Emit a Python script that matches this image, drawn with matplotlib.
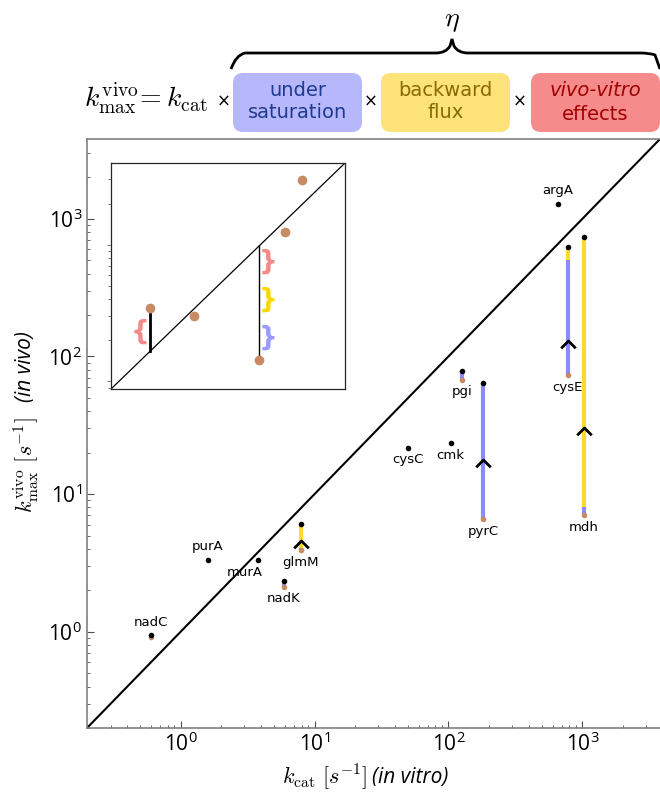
import matplotlib
matplotlib.use("Agg")
import matplotlib.pyplot as plt
from matplotlib.patches import FancyBboxPatch, PathPatch
from matplotlib.path import Path

plt.rcParams["mathtext.fontset"] = "cm"
plt.rcParams["font.family"] = ["Open Sans", "DejaVu Sans"]

# enzymes: kcat (in vitro) and kmax (in vivo), s^-1
genes = ["nadC", "purA", "murA", "nadK", "glmM", "cysC", "cmk", "pgi",
         "pyrC", "cysE", "mdh", "argA"]
kcat = [0.6, 1.6, 3.8, 5.9, 7.9, 50, 104, 126, 182, 775, 1030, 655]
kmax = [0.94, 3.3, 3.3, 2.34, 6.1, 21.8, 23.5, 78, 64.5, 623, 737, 1280]
# kmax corrected for backward flux (top of the under-saturation segment)
k_flux = [0.93, 3.3, 3.3, 2.3, 4.07, 21.8, 23.5, 77, 64.5, 502, 8.0, 1280]
# kmax corrected for backward flux and under saturation
k_sat = [0.92, 3.3, 3.3, 2.12, 3.9, 21.8, 23.5, 67.8, 6.6, 73.2, 7.04, 1280]
has_corr = [True, False, False, True, True, False, False, True,
            True, True, True, False]
# arrows along the correction segments
arrow_genes = ["glmM", "pyrC", "cysE", "mdh"]
arrow_y = [4.48, 17.3, 127.6, 29.6]
label_above = ["nadC", "purA", "argA"]

# inset sketch
inset_x = [19.6, 15.0, 3.41, 1.66, 9.73]
inset_y = [29.7, 12.4, 2.99, 3.42, 1.43]

C_SAT = "#8b8bff"
C_FLUX = "#ffd92f"
C_DOT = "#c78a62"

fig = plt.figure(figsize=(6.6, 7.94), dpi=100)

ax = fig.add_axes([87 / 660, 66 / 794, 573 / 660, 589 / 794])
ax.set_xscale("log")
ax.set_yscale("log")
lim = (0.2, 3800)
ax.set_xlim(lim)
ax.set_ylim(lim)
ax.plot(lim, lim, color="black", lw=1.5, zorder=1)

for g, x, y, yf, ys, c in zip(genes, kcat, kmax, k_flux, k_sat, has_corr):
    if c:
        ax.plot([x, x], [yf, y], color=C_FLUX, lw=3, solid_capstyle="butt", zorder=2)
        ax.plot([x, x], [ys, yf], color=C_SAT, lw=3, solid_capstyle="butt", zorder=2)
        ax.plot(x, ys, "o", color=C_DOT, ms=4, mec="none", zorder=3)
    ax.plot(x, y, "o", color="black", ms=4, mec="none", zorder=4)
    if g in label_above:
        ax.annotate(g, (x, y), xytext=(0, 5), textcoords="offset points",
                    ha="center", va="bottom", fontsize=9.5, family="DejaVu Sans")
    elif g == "murA":
        ax.annotate(g, (x, y), xytext=(-10, -4), textcoords="offset points",
                    ha="center", va="top", fontsize=9.5, family="DejaVu Sans")
    else:
        ax.annotate(g, (x, ys if c else y), xytext=(0, -4), textcoords="offset points",
                    ha="center", va="top", fontsize=9.5, family="DejaVu Sans")

chevron = Path([(-1, -0.8), (0, 0.2), (1, -0.8)],
               [Path.MOVETO, Path.LINETO, Path.LINETO])
for g, ya in zip(arrow_genes, arrow_y):
    ax.plot(kcat[genes.index(g)], ya, marker=chevron, ms=10.5, mfc="none",
            mec="black", mew=2, zorder=5)

for s in ("left", "bottom", "top"):
    ax.spines[s].set_color("0.5")
    ax.spines[s].set_linewidth(1.2)
ax.spines["right"].set_visible(False)
ax.tick_params(which="both", direction="in", top=False, right=False,
               labelsize=15, color="0.3")
ax.tick_params(which="major", length=5)
ax.tick_params(which="minor", length=2.5)
ax.set_xticks([1, 10, 100, 1000])
ax.set_yticks([1, 10, 100, 1000])

# inset
ins = fig.add_axes([111 / 660, (794 - 389) / 794, 234 / 660, 226 / 794])
ins.set_xscale("log")
ins.set_yscale("log")
ilim = (0.88, 39.6)
ins.set_xlim(ilim)
ins.set_ylim(ilim)
ins.plot(ilim, ilim, color="black", lw=0.9)
ins.plot(inset_x, inset_y, "o", color=C_DOT, ms=7, mec="none", zorder=3)
ins.plot([inset_x[3]] * 2, [inset_x[3], 3.13], color="black", lw=2)
ins.plot([inset_x[4]] * 2, [inset_x[4], 1.57], color="black", lw=1)
ins.text(1.41, 2.31, "{", color="#f48a8a", fontsize=19, fontweight="bold",
         ha="center", va="center", family="DejaVu Sans")
ins.text(11.3, 7.5, "}", color="#f48a8a", fontsize=19, fontweight="bold",
         ha="center", va="center", family="DejaVu Sans")
ins.text(11.3, 3.99, "}", color="#ffd700", fontsize=19, fontweight="bold",
         ha="center", va="center", family="DejaVu Sans")
ins.text(11.3, 2.09, "}", color="#9a9aff", fontsize=19, fontweight="bold",
         ha="center", va="center", family="DejaVu Sans")
ins.set_xticks([])
ins.set_xticks([], minor=True)
ins.tick_params(which="both", direction="out", labelleft=False, length=2,
                width=0.6, color="0.4")
ins.tick_params(which="major", length=3)
for s in ins.spines.values():
    s.set_color("0.15")
    s.set_linewidth(0.9)

# header overlay in pixel coordinates
ov = fig.add_axes([0, 0, 1, 1], zorder=-1)
ov.set_xlim(0, 660)
ov.set_ylim(794, 0)
ov.axis("off")

brace = Path([(231, 69), (236, 55), (245, 53), (250, 53), (436, 53),
              (446, 53), (450, 46), (452, 39),
              (454, 46), (458, 53), (468, 53),
              (640, 53), (650, 53), (655, 55), (660, 69)],
             [Path.MOVETO, Path.CURVE3, Path.CURVE3, Path.LINETO, Path.LINETO,
              Path.CURVE3, Path.CURVE3, Path.LINETO,
              Path.LINETO, Path.CURVE3, Path.CURVE3,
              Path.LINETO, Path.CURVE3, Path.CURVE3, Path.LINETO])
ov.add_patch(PathPatch(brace, fill=False, lw=2, ec="black"))
ov.text(452, 20, r"$\eta$", fontsize=20, ha="center", va="center")

boxes = [(233, "#b6b8fb"), (381, "#fee27a"), (531, "#f58b8b")]
for x0, col in boxes:
    ov.add_patch(FancyBboxPatch((x0, 73), 129, 59,
                                boxstyle="round,pad=0,rounding_size=10",
                                fc=col, ec="none"))
ov.text(297.5, 102, "under\nsaturation", ha="center", va="center",
        fontsize=14, color="#1f3a8f", linespacing=1.2, family="DejaVu Sans")
ov.text(445.5, 102, "backward\nflux", ha="center", va="center",
        fontsize=14, color="#8a6a00", linespacing=1.2, family="DejaVu Sans")
ov.text(595.5, 91, "vivo-vitro", ha="center", va="center", style="italic",
        fontsize=14, color="#a00000", family="DejaVu Sans")
ov.text(595.5, 115, "effects", ha="center", va="center",
        fontsize=14, color="#a00000", family="DejaVu Sans")
ov.text(84, 98, r"$k_{\mathrm{max}}^{\mathrm{vivo}}\!=k_{\mathrm{cat}}$",
        ha="left", va="center", fontsize=20)
for xm in (224, 371, 520):
    ov.text(xm, 102, "×", ha="center", va="center", fontsize=12,
            family="DejaVu Sans")

# axis labels (math part + italic sans part)
ov.text(367, 777, r"$k_{\mathrm{cat}}\ [s^{-1}]$", ha="right", va="center",
        fontsize=16)
ov.text(372, 777, "(in vitro)", ha="left", va="center", fontsize=15,
        style="italic")
ov.text(26, 513, r"$k_{\mathrm{max}}^{\mathrm{vivo}}\ [s^{-1}]$", ha="center",
        va="bottom", rotation=90, fontsize=16)
ov.text(26, 402, "(in vivo)", ha="center", va="bottom", rotation=90,
        fontsize=15, style="italic")

fig.savefig("out.png", dpi=100)
